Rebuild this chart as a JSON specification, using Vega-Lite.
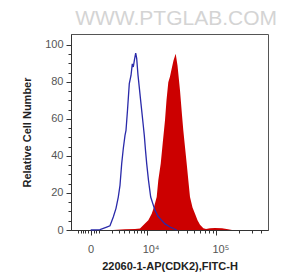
{
  "$schema": "https://vega.github.io/schema/vega-lite/v6.json",
  "width": 197,
  "height": 196,
  "autosize": {"type": "none"},
  "padding": {"left": 71, "top": 34, "right": 18, "bottom": 45},
  "background": "white",
  "title": {"text": "WWW.PTGLAB.COM", "anchor": "end", "fontSize": 21, "font": "Liberation Sans", "fontWeight": "normal", "color": "#d4d4d4", "offset": 5, "dx": 9},
  "config": {"view": {"stroke": "#555555", "strokeWidth": 1}},
  "datasets": {
    "red": [
      {"x": 2164, "y": 0}, {"x": 4102, "y": 0.4}, {"x": 6357, "y": 0.5}, {"x": 7766, "y": 0.8},
      {"x": 9408, "y": 3.5}, {"x": 10641, "y": 5.2}, {"x": 12052, "y": 8.8}, {"x": 13088, "y": 12.4},
      {"x": 14394, "y": 17.8}, {"x": 15228, "y": 26.8}, {"x": 16552, "y": 35.8}, {"x": 17914, "y": 48.4},
      {"x": 18545, "y": 53.8}, {"x": 19182, "y": 59.2}, {"x": 20180, "y": 70}, {"x": 21448, "y": 79.7},
      {"x": 22710, "y": 82.9}, {"x": 24043, "y": 87.2}, {"x": 25510, "y": 91.5}, {"x": 27420, "y": 95.1},
      {"x": 29110, "y": 88.8}, {"x": 31600, "y": 75.3}, {"x": 33730, "y": 61.9}, {"x": 35170, "y": 53.8},
      {"x": 36330, "y": 48.4}, {"x": 39260, "y": 35.8}, {"x": 41350, "y": 26.8}, {"x": 43640, "y": 17.8},
      {"x": 47290, "y": 12.2}, {"x": 51200, "y": 8.8}, {"x": 55440, "y": 5.2}, {"x": 60000, "y": 2.8},
      {"x": 66600, "y": 0.9}, {"x": 72480, "y": 0.5}, {"x": 82190, "y": 0.9}, {"x": 96120, "y": 1.1},
      {"x": 119460, "y": 0.9}, {"x": 143900, "y": 0.4}, {"x": 162860, "y": 0}
    ],
    "blue": [
      {"x": 0, "y": 0}, {"x": 729, "y": 0.2}, {"x": 1397, "y": 1.6}, {"x": 1779, "y": 2.3},
      {"x": 2204, "y": 7.0}, {"x": 2584, "y": 11.7}, {"x": 2931, "y": 17.8}, {"x": 3206, "y": 24.1},
      {"x": 3495, "y": 35.8}, {"x": 3782, "y": 44}, {"x": 4102, "y": 51.1}, {"x": 4297, "y": 53.8},
      {"x": 4602, "y": 64.6}, {"x": 4986, "y": 79}, {"x": 5371, "y": 83.4}, {"x": 5677, "y": 89.7},
      {"x": 5922, "y": 88}, {"x": 6222, "y": 92}, {"x": 6539, "y": 95.5}, {"x": 6808, "y": 92.6},
      {"x": 7175, "y": 83.6}, {"x": 7615, "y": 75.9}, {"x": 8079, "y": 68.1}, {"x": 8826, "y": 56.3},
      {"x": 9166, "y": 51.1}, {"x": 9592, "y": 43}, {"x": 10028, "y": 35.8}, {"x": 10721, "y": 26.8},
      {"x": 11617, "y": 17.8}, {"x": 13554, "y": 10.6}, {"x": 15072, "y": 7.4}, {"x": 17138, "y": 5.2},
      {"x": 19182, "y": 3.3}, {"x": 22710, "y": 1.6}, {"x": 28350, "y": 0}
    ]
  },
  "encoding": {
    "x": {
      "field": "x", "type": "quantitative",
      "scale": {"type": "symlog", "constant": 2222, "domain": [-1827, 492000], "nice": false, "zero": false},
      "axis": {
        "title": "22060-1-AP(CDK2),FITC-H",
        "values": [-1000, -800, -600, -400, -200, 0, 200, 400, 600, 2000, 3000, 4000, 5000, 6000, 7000, 8000, 9000, 10000, 20000, 30000, 40000, 50000, 60000, 70000, 80000, 90000, 100000, 200000, 300000, 400000],
        "labelExpr": "datum.value == 0 ? '0' : datum.value == 10000 ? '10⁴' : datum.value == 100000 ? '10⁵' : ''",
        "tickSize": {"condition": {"test": "datum.value == 0 || datum.value == 10000 || datum.value == 100000", "value": 5}, "value": 3},
        "labelOffset": {"condition": {"test": "datum.value > 0", "value": 4}, "value": 0},
        "labelOverlap": false, "labelFlush": false, "labelBound": false,
        "labelPadding": 8, "titlePadding": 6,
        "grid": false, "domainColor": "#333333", "tickColor": "#333333",
        "labelColor": "#555555", "labelFont": "Liberation Sans", "labelFontSize": 11,
        "titleFont": "Liberation Sans", "titleFontSize": 11, "titleFontWeight": "bold", "titleColor": "#222222"
      }
    },
    "y": {
      "field": "y", "type": "quantitative",
      "scale": {"domain": [0, 105.8], "nice": false, "zero": false},
      "axis": {
        "title": "Relative Cell Number",
        "values": [0, 5, 10, 15, 20, 25, 30, 35, 40, 45, 50, 55, 60, 65, 70, 75, 80, 85, 90, 95, 100],
        "labelExpr": "datum.value % 20 == 0 ? datum.label : ''",
        "tickSize": {"condition": {"test": "datum.value % 20 == 0", "value": 5}, "value": 3},
        "labelOverlap": false, "labelFlush": false, "labelBound": false,
        "labelPadding": 3, "titlePadding": 12,
        "grid": false, "domainColor": "#333333", "tickColor": "#333333",
        "labelColor": "#555555", "labelFont": "Liberation Sans", "labelFontSize": 11,
        "titleFont": "Liberation Sans", "titleFontSize": 11, "titleFontWeight": "bold", "titleColor": "#222222"
      }
    }
  },
  "layer": [
    {"data": {"name": "red"}, "mark": {"type": "area", "color": "#cc0000", "opacity": 1}},
    {"data": {"name": "blue"}, "mark": {"type": "line", "color": "#2a2aaa", "strokeWidth": 1.3}}
  ]
}
